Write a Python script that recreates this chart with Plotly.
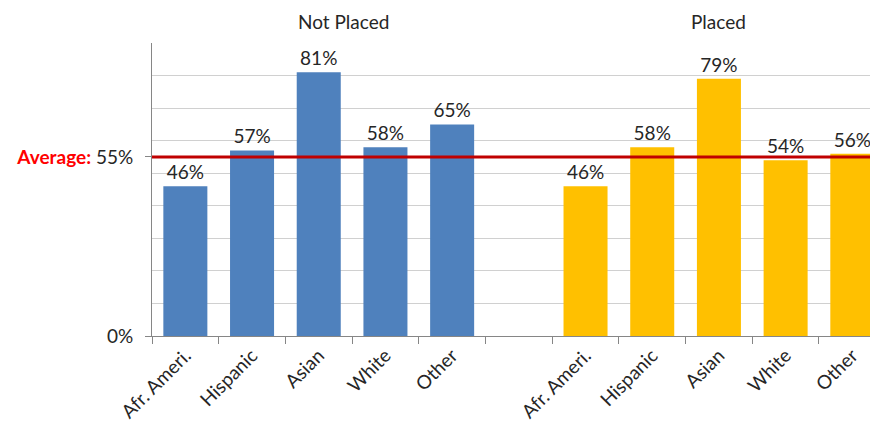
import plotly.graph_objects as go

categories = ["Afr. Ameri.", "Hispanic", "Asian", "White", "Other"]
groups = ["Not Placed", "Placed"]
not_placed = [0.46, 0.57, 0.81, 0.58, 0.65]
placed = [0.46, 0.58, 0.79, 0.54, 0.56]
average = 0.55
colors = ["#4F81BD", "#FFC000"]

n = len(categories)
x_np = list(range(n))
x_p = [i + n + 1 for i in range(n)]

TXT = "#262626"
FONT = "Lato"

fig = go.Figure()
for xs, vals, col in [(x_np, not_placed, colors[0]), (x_p, placed, colors[1])]:
    fig.add_trace(go.Bar(
        x=xs, y=vals, marker=dict(color=col, line=dict(width=0)),
        text=[f"{round(v*100)}%" for v in vals], textposition="outside",
        textfont=dict(size=19, color=TXT, family=FONT), cliponaxis=False,
        width=0.66, showlegend=False, hoverinfo="skip"))

fig.add_shape(type="line", xref="paper", yref="y", x0=0, x1=1, y0=average, y1=average,
              line=dict(color="#C00000", width=3), layer="above")

boundaries = [i - 0.5 for i in range(2 * n + 2)]
fig.update_xaxes(
    range=[-0.5, 10.385], tickvals=x_np + x_p, ticktext=categories + categories,
    tickangle=-45, ticks="", showgrid=False, showline=True, linecolor="#868686", linewidth=1,
    tickfont=dict(size=19, color=TXT, family=FONT), zeroline=False, automargin=False,
    minor=dict(tickvals=boundaries, ticks="outside", ticklen=7, tickcolor="#868686", showgrid=False))

fig.update_yaxes(
    range=[0, 0.9], tickvals=[0, average],
    ticktext=["0%", f"<span style='color:#FF0000'><b>Average:</b></span> {round(average*100)}%"],
    ticks="outside", ticklen=6, tickcolor="#868686", showgrid=False, zeroline=False,
    showline=True, linecolor="#868686", linewidth=1, ticklabelstandoff=8, automargin=False,
    tickfont=dict(size=19, color=TXT, family=FONT),
    minor=dict(dtick=0.1, tick0=0, showgrid=True, gridcolor="#D0D0D0", gridwidth=1, ticks=""))

title_pos = [2.37, 8.0]
for g, xp in zip(groups, title_pos):
    fig.add_annotation(x=xp, xref="x", y=1, yref="paper", yanchor="bottom", yshift=8,
                       text=g, showarrow=False, font=dict(size=19, color=TXT, family=FONT))

fig.update_layout(
    width=870, height=432, margin=dict(l=144, r=0, t=35, b=104),
    paper_bgcolor="white", plot_bgcolor="white", bargap=0.34)

fig.write_html("out.html")
